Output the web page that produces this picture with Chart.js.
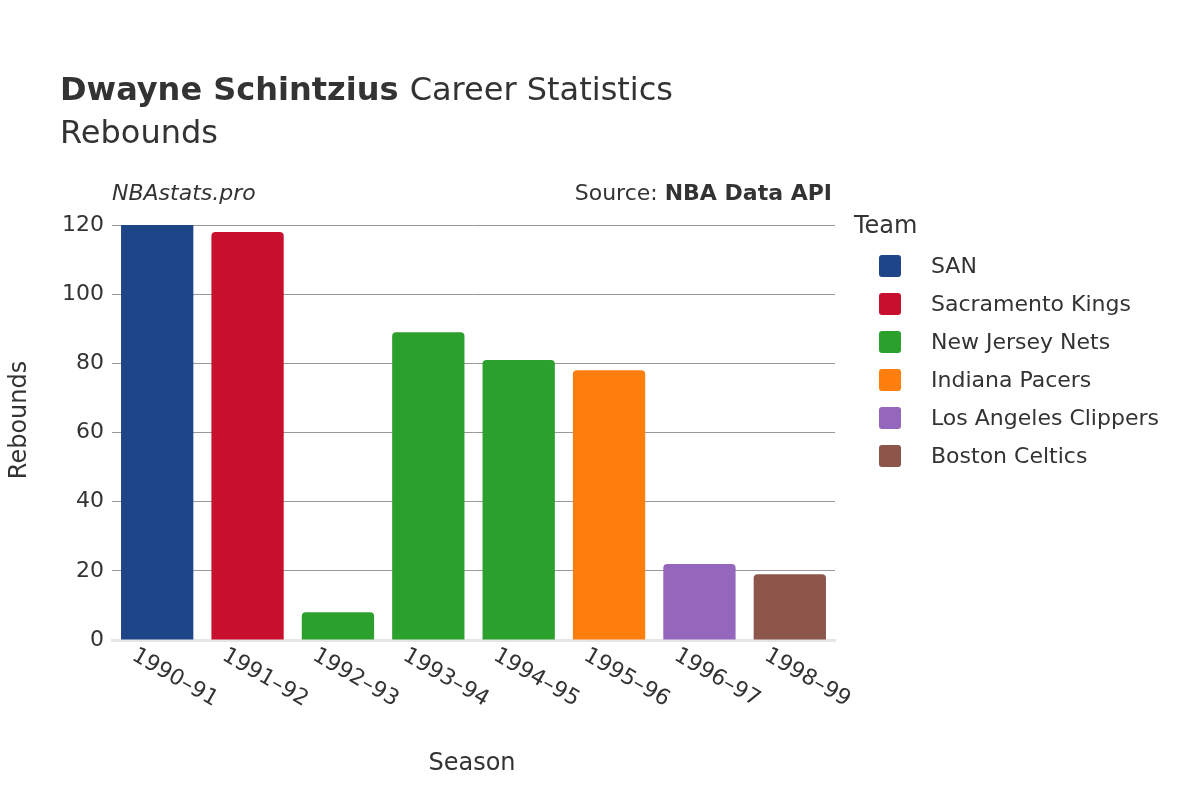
<!DOCTYPE html>
<html><head><meta charset="utf-8">
<script src="https://cdn.jsdelivr.net/npm/chart.js@4"></script>
<style>html,body{margin:0;padding:0;background:#fff}#w{width:1200px;height:800px}</style>
</head><body><div id="w"><canvas id="c" width="1200" height="800"></canvas></div>
<script>
const seasons=["1990–91","1991–92","1992–93","1993–94","1994–95","1995–96","1996–97","1998–99"];
const rebounds=[121,118,8,89,81,78,22,19];
const barTeams=["SAN","Sacramento Kings","New Jersey Nets","New Jersey Nets","New Jersey Nets","Indiana Pacers","Los Angeles Clippers","Boston Celtics"];
const teams=["SAN","Sacramento Kings","New Jersey Nets","Indiana Pacers","Los Angeles Clippers","Boston Celtics"];
const teamColors=["#1f4589","#c8102e","#2ca02c","#ff7f0e","#9467bd","#8c564b"];
const F="'DejaVu Sans','Noto Sans',sans-serif";
const deco={id:'deco',afterDraw(ch){
 const c=ch.ctx;c.save();c.fillStyle='#333';c.textBaseline='alphabetic';
 c.font='bold 32px '+F;c.textAlign='left';c.fillText('Dwayne Schintzius',60,100);
 const w=c.measureText('Dwayne Schintzius ').width;
 c.font='32px '+F;c.fillText('Career Statistics',60+w,100);
 c.fillText('Rebounds',60,143);
 c.font='italic 22px '+F;c.fillText('NBAstats.pro',112,200);
 c.textAlign='right';c.font='bold 22px '+F;c.fillText('NBA Data API',832,200);
 const bw=c.measureText('NBA Data API').width;c.font='22px '+F;c.fillText('Source: ',832-bw,200);
 c.textAlign='center';c.font='24px '+F;c.fillText('Season',472,770);
 c.save();c.translate(26,420);c.rotate(-Math.PI/2);c.fillText('Rebounds',0,0);c.restore();
 const xs=ch.scales.x;c.font='22px '+F;c.textAlign='left';c.textBaseline='middle';
 seasons.forEach((s,i)=>{const x=xs.getPixelForValue(i);c.save();c.translate(x-8,663);c.rotate(Math.PI/6);c.fillText(s,-18,0);c.restore();});
 c.textAlign='left';c.font='24px '+F;c.fillText('Team',854,227);
 c.font='22px '+F;
 teams.forEach((t,i)=>{const y=266+i*38;c.fillStyle=teamColors[i];c.beginPath();c.roundRect(879,y-11,22,22,3);c.fill();c.fillStyle='#333';c.fillText(t,931,y+1);});
 c.restore();}};
new Chart(document.getElementById('c'),{type:'bar',
 data:{labels:seasons,datasets:[{data:rebounds,backgroundColor:barTeams.map(t=>teamColors[teams.indexOf(t)]),borderRadius:4,borderSkipped:'bottom',categoryPercentage:0.8,barPercentage:1}]},
 options:{responsive:false,animation:false,devicePixelRatio:1,
  layout:{padding:{top:225,left:0,right:365,bottom:0}},
  plugins:{legend:{display:false},tooltip:{enabled:false}},
  scales:{x:{ticks:{display:false},grid:{display:false},border:{display:true,color:'#e5e5e5',width:3},afterFit(s){s.height=160;}},
   y:{min:0,max:120,ticks:{stepSize:20,color:'#333',font:{size:22,family:F},padding:8},grid:{color:'#999',drawTicks:false},border:{display:false},afterFit(s){s.width=112;}}}}
 ,plugins:[deco]});
</script></body></html>
